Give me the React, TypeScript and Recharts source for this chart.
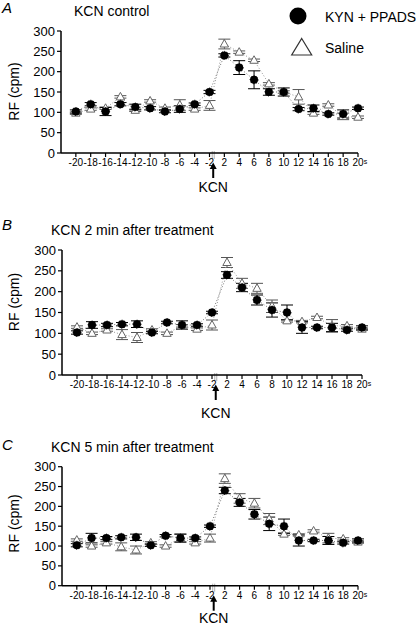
import { LineChart, Line, XAxis, YAxis, ErrorBar, ReferenceLine } from 'recharts';

const FONT = '"Liberation Sans", Arial, sans-serif';

const LABELS = ['-20', '-18', '-16', '-14', '-12', '-10', '-8', '-6', '-4', '-2', '2', '4', '6', '8', '10', '12', '14', '16', '18', '20'];
const Y_TICKS = [0, 50, 100, 150, 200, 250, 300];

// panel A: KCN control
const A_KYN = [102, 120, 102, 120, 113, 110, 102, 108, 120, 150, 240, 210, 180, 150, 150, 108, 110, 96, 96, 110];
const A_KYN_ERR = [4, 4, 10, 4, 7, 4, 3, 8, 3, 4, 4, 17, 22, 8, 10, 4, 8, 3, 10, 3];
const A_SAL = [98, 108, 110, 138, 105, 128, 110, 118, 108, 117, 268, 248, 228, 170, 150, 138, 98, 118, 90, 88];
const A_SAL_ERR = [3, 3, 3, 3, 3, 3, 3, 13, 3, 12, 12, 3, 3, 3, 3, 18, 3, 3, 8, 3];

// panel B: 2 min after treatment
const B_KYN = [102, 120, 120, 122, 122, 102, 126, 120, 120, 150, 240, 210, 180, 156, 150, 114, 114, 114, 108, 114];
const B_KYN_ERR = [4, 8, 4, 4, 8, 3, 3, 10, 3, 3, 8, 10, 12, 17, 18, 14, 3, 10, 3, 4];
const B_SAL = [115, 100, 108, 97, 90, 108, 100, 118, 110, 120, 270, 220, 208, 165, 130, 128, 138, 118, 118, 110];
const B_SAL_ERR = [3, 3, 3, 12, 12, 3, 3, 3, 3, 12, 12, 12, 12, 15, 3, 3, 3, 15, 3, 3];

// panel C: 5 min after treatment
const C_KYN = [102, 120, 120, 122, 122, 102, 126, 120, 120, 150, 240, 210, 180, 156, 150, 114, 114, 114, 108, 114];
const C_KYN_ERR = [4, 12, 4, 4, 8, 3, 3, 10, 3, 3, 8, 10, 12, 17, 18, 14, 3, 10, 3, 4];
const C_SAL = [115, 100, 108, 98, 90, 108, 100, 120, 108, 120, 270, 220, 208, 168, 130, 128, 138, 120, 118, 110];
const C_SAL_ERR = [3, 3, 3, 10, 10, 3, 3, 10, 3, 10, 12, 12, 12, 14, 3, 3, 3, 12, 3, 3];

const YW = 40;
const XH = 30;

const PANELS = [
  { top: 0, height: 200, plot: { t: 31, b: 153, l: 61, r: 358 }, kyn: A_KYN, kynErr: A_KYN_ERR, sal: A_SAL, salErr: A_SAL_ERR, kcnGap: 39 },
  { top: 200, height: 230, plot: { t: 250, b: 375, l: 62, r: 362 }, kyn: B_KYN, kynErr: B_KYN_ERR, sal: B_SAL, salErr: B_SAL_ERR, kcnGap: 43 },
  { top: 400, height: 226, plot: { t: 466.7, b: 585.7, l: 62, r: 358 }, kyn: C_KYN, kynErr: C_KYN_ERR, sal: C_SAL, salErr: C_SAL_ERR, kcnGap: 37.5 },
];

function XTick({ x, y, payload }: any) {
  const label = LABELS[payload.value];
  if (label === '20') {
    return (
      <text x={x - 5.5} y={y} dy={8} fontSize={10} fontFamily={FONT} fill="#000">
        20<tspan fontSize={7} dy={-2}>s</tspan>
      </text>
    );
  }
  return (
    <text x={x} y={y} dy={8} textAnchor="middle" fontSize={10} fontFamily={FONT} fill="#000">
      {label}
    </text>
  );
}

function TriangleDot(props: any) {
  const { cx, cy, index } = props;
  if (cx == null || cy == null) return <g key={index} />;
  return (
    <path
      key={index}
      d={`M${cx},${cy - 4.5} L${cx + 4.2},${cy + 3} L${cx - 4.2},${cy + 3} Z`}
      fill="#fff"
      stroke="#666"
      strokeWidth={1}
    />
  );
}

function kcnMark(gap: number) {
  return (props: any) => {
    const vb = props.viewBox || {};
    const x = vb.x;
    const base = vb.y + vb.height;
    return (
      <g>
        <line x1={x - 1} x2={x - 1} y1={base - 2} y2={base + 6} stroke="#999" strokeWidth={0.8} />
        <line x1={x + 1} x2={x + 1} y1={base - 2} y2={base + 6} stroke="#999" strokeWidth={0.8} />
        <line x1={x} x2={x} y1={base + 14} y2={base + 25} stroke="#000" strokeWidth={2} />
        <path d={`M${x},${base + 9.5} L${x + 3.5},${base + 16} L${x - 3.5},${base + 16} Z`} fill="#000" />
        <text x={x} y={base + gap} textAnchor="middle" fontSize={14} fontFamily={FONT} fill="#000">
          KCN
        </text>
      </g>
    );
  };
}

function Panel({ p }: any) {
  const data = LABELS.map((_, i) => ({
    i,
    kyn: p.kyn[i],
    kynErr: p.kynErr[i],
    sal: p.sal[i],
    salErr: p.salErr[i],
  }));
  const margin = {
    top: p.plot.t - p.top,
    bottom: p.top + p.height - p.plot.b - XH,
    left: p.plot.l - YW,
    right: 416 - p.plot.r,
  };
  return (
    <div style={{ position: 'absolute', left: 0, top: p.top }}>
      <LineChart width={416} height={p.height} data={data} margin={margin}>
        <XAxis
          type="number"
          dataKey="i"
          domain={[-1, 19]}
          ticks={LABELS.map((_, i) => i)}
          interval={0}
          height={XH}
          tickSize={4}
          tickMargin={1}
          tick={<XTick />}
          axisLine={{ stroke: '#000', strokeWidth: 1.5 }}
          tickLine={{ stroke: '#000', strokeWidth: 1.2 }}
        />
        <YAxis
          type="number"
          domain={[0, 300]}
          ticks={Y_TICKS}
          interval={0}
          width={YW}
          tickSize={4}
          tickMargin={2}
          tick={{ fontSize: 13, fill: '#000', fontFamily: FONT }}
          axisLine={{ stroke: '#000', strokeWidth: 1.5 }}
          tickLine={{ stroke: '#000', strokeWidth: 1.2 }}
        />
        <ReferenceLine x={9.25} stroke="none" ifOverflow="visible" label={kcnMark(p.kcnGap)} />
        <Line
          dataKey="sal"
          stroke="#999"
          strokeWidth={1}
          strokeDasharray="1 2"
          dot={TriangleDot}
          activeDot={false}
          isAnimationActive={false}
        >
          <ErrorBar dataKey="salErr" width={6} stroke="#555" strokeWidth={1} direction="y" isAnimationActive={false} />
        </Line>
        <Line
          dataKey="kyn"
          stroke="#777"
          strokeWidth={1}
          strokeDasharray="1 2"
          dot={{ r: 4, fill: '#000', stroke: '#000', strokeWidth: 1 }}
          activeDot={false}
          isAnimationActive={false}
        >
          <ErrorBar dataKey="kynErr" width={6} stroke="#000" strokeWidth={1} direction="y" isAnimationActive={false} />
        </Line>
      </LineChart>
    </div>
  );
}

export default function App() {
  return (
    <div style={{ position: 'absolute', left: 0, top: 0, width: 416, height: 626, background: '#fff', fontFamily: FONT }}>
      {PANELS.map((p, k) => (
        <Panel key={k} p={p} />
      ))}
      <svg width={416} height={626} style={{ position: 'absolute', left: 0, top: 0, pointerEvents: 'none' }}>
        <g fontFamily={FONT} fill="#000">
          <text x={2} y={13} fontSize={15} fontStyle="italic">A</text>
          <text x={2} y={230} fontSize={15} fontStyle="italic">B</text>
          <text x={2} y={450} fontSize={15} fontStyle="italic">C</text>

          <text x={74} y={16} fontSize={14}>KCN control</text>
          <text x={51} y={235} fontSize={14}>KCN 2 min after treatment</text>
          <text x={51} y={451.5} fontSize={14}>KCN 5 min after treatment</text>

          <text transform="translate(18.5,91.5) rotate(-90)" textAnchor="middle" fontSize={14}>RF (cpm)</text>
          <text transform="translate(18.5,302) rotate(-90)" textAnchor="middle" fontSize={14}>RF (cpm)</text>
          <text transform="translate(18.5,523.5) rotate(-90)" textAnchor="middle" fontSize={14}>RF (cpm)</text>

          <circle cx={298} cy={16} r={8.5} fill="#000" />
          <text x={325} y={21.5} fontSize={14}>KYN + PPADS</text>
          <path d="M301.7,38.5 L311.7,55 L291.7,55 Z" fill="#fff" stroke="#333" strokeWidth={1.2} />
          <text x={325} y={53} fontSize={14}>Saline</text>
        </g>
      </svg>
    </div>
  );
}
